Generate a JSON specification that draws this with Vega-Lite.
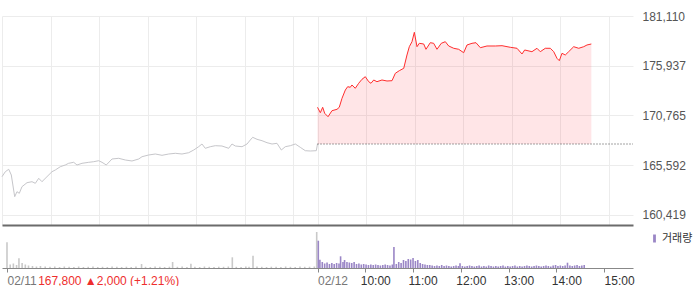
{
"$schema": "https://vega.github.io/schema/vega-lite/v6.json",
"padding": {"left": 0, "top": 10, "right": 0, "bottom": 0},
"autosize": {"type": "pad"},
"bounds": "flush",
"spacing": 0,
"config": {"view": {"stroke": null}, "font": "Liberation Sans"},
"datasets": {
"price": [
{"t":0,"p":164401,"d":1},{"t":4.1,"p":164921,"d":1},{"t":8.3,"p":165171,"d":1},{"t":11.5,"p":164578,"d":1},{"t":15.7,"p":162322,"d":1},{"t":18.5,"p":162842,"d":1},{"t":21.4,"p":162675,"d":1},{"t":24.7,"p":163361,"d":1},{"t":30.9,"p":163777,"d":1},{"t":37.1,"p":163881,"d":1},{"t":41.2,"p":163715,"d":1},{"t":45.4,"p":164235,"d":1},{"t":49.4,"p":163881,"d":1},{"t":55.6,"p":164401,"d":1},{"t":61.8,"p":164921,"d":1},{"t":65.9,"p":165098,"d":1},{"t":72.1,"p":165441,"d":1},{"t":78.2,"p":165618,"d":1},{"t":82.4,"p":165794,"d":1},{"t":88.6,"p":165898,"d":1},{"t":92.7,"p":165618,"d":1},{"t":98.9,"p":165794,"d":1},{"t":107.2,"p":165898,"d":1},{"t":113.4,"p":165961,"d":1},{"t":119.5,"p":166065,"d":1},{"t":123.6,"p":165898,"d":1},{"t":128.9,"p":165618,"d":1},{"t":136.0,"p":166242,"d":1},{"t":144.3,"p":166314,"d":1},{"t":152.4,"p":166138,"d":1},{"t":160.7,"p":166034,"d":1},{"t":169.0,"p":166242,"d":1},{"t":173.1,"p":166481,"d":1},{"t":181.3,"p":166658,"d":1},{"t":189.5,"p":166761,"d":1},{"t":197.8,"p":166626,"d":1},{"t":206.1,"p":166761,"d":1},{"t":214.2,"p":166834,"d":1},{"t":222.5,"p":166761,"d":1},{"t":230.8,"p":166897,"d":1},{"t":237.0,"p":167177,"d":1},{"t":243.1,"p":167521,"d":1},{"t":247.2,"p":167801,"d":1},{"t":251.3,"p":167354,"d":1},{"t":257.5,"p":167521,"d":1},{"t":263.7,"p":167624,"d":1},{"t":271.9,"p":167593,"d":1},{"t":280.2,"p":167354,"d":1},{"t":284.3,"p":167801,"d":1},{"t":288.4,"p":167593,"d":1},{"t":296.7,"p":167521,"d":1},{"t":302.9,"p":167801,"d":1},{"t":306.9,"p":168217,"d":1},{"t":309.9,"p":168498,"d":1},{"t":315.2,"p":168290,"d":1},{"t":321.4,"p":168144,"d":1},{"t":327.6,"p":167936,"d":1},{"t":333.8,"p":167801,"d":1},{"t":339.9,"p":167874,"d":1},{"t":345.3,"p":167177,"d":1},{"t":350.2,"p":167521,"d":1},{"t":356.4,"p":167624,"d":1},{"t":362.6,"p":167801,"d":1},{"t":368.7,"p":167458,"d":1},{"t":374.9,"p":167105,"d":1},{"t":381.1,"p":167073,"d":1},{"t":388.5,"p":167105,"d":1},{"t":390,"p":167800,"d":1},
{"t":390,"p":171617,"d":2},{"t":393.5,"p":171056,"d":2},{"t":396.4,"p":171617,"d":2},{"t":398.9,"p":170993,"d":2},{"t":403.0,"p":170640,"d":2},{"t":407.9,"p":171264,"d":2},{"t":414.1,"p":171409,"d":2},{"t":416.9,"p":171617,"d":2},{"t":420.3,"p":172553,"d":2},{"t":424.4,"p":173416,"d":2},{"t":427.3,"p":173759,"d":2},{"t":430.5,"p":173697,"d":2},{"t":432.6,"p":173936,"d":2},{"t":436.7,"p":173593,"d":2},{"t":440.9,"p":174113,"d":2},{"t":445.0,"p":174529,"d":2},{"t":449.1,"p":174799,"d":2},{"t":453.3,"p":174279,"d":2},{"t":456.1,"p":174113,"d":2},{"t":459.5,"p":174456,"d":2},{"t":463.5,"p":174279,"d":2},{"t":469.7,"p":174456,"d":2},{"t":475.9,"p":174352,"d":2},{"t":482.1,"p":174383,"d":2},{"t":486.2,"p":175152,"d":2},{"t":491.1,"p":175423,"d":2},{"t":496.6,"p":175672,"d":2},{"t":500.6,"p":177055,"d":2},{"t":503.5,"p":177918,"d":2},{"t":506.8,"p":178438,"d":2},{"t":509.7,"p":179415,"d":2},{"t":513.0,"p":177918,"d":2},{"t":515.8,"p":178271,"d":2},{"t":521.3,"p":178199,"d":2},{"t":524.1,"p":177648,"d":2},{"t":529.4,"p":178334,"d":2},{"t":533.6,"p":178271,"d":2},{"t":537.7,"p":177648,"d":2},{"t":543.0,"p":178271,"d":2},{"t":548.0,"p":178438,"d":2},{"t":552.2,"p":177991,"d":2},{"t":558.4,"p":177752,"d":2},{"t":564.5,"p":177648,"d":2},{"t":570.7,"p":177294,"d":2},{"t":574.8,"p":178095,"d":2},{"t":581.0,"p":178271,"d":2},{"t":585.9,"p":178334,"d":2},{"t":591.3,"p":177814,"d":2},{"t":599.5,"p":177991,"d":2},{"t":609.8,"p":177991,"d":2},{"t":618.1,"p":178022,"d":2},{"t":628.3,"p":177856,"d":2},{"t":636.6,"p":177752,"d":2},{"t":642.8,"p":177159,"d":2},{"t":646.1,"p":177575,"d":2},{"t":655.1,"p":177398,"d":2},{"t":661.3,"p":177752,"d":2},{"t":665.4,"p":177398,"d":2},{"t":671.6,"p":177752,"d":2},{"t":677.8,"p":177752,"d":2},{"t":682.0,"p":177398,"d":2},{"t":686.0,"p":176712,"d":2},{"t":688.9,"p":176462,"d":2},{"t":692.2,"p":177232,"d":2},{"t":696.3,"p":177055,"d":2},{"t":700.5,"p":177398,"d":2},{"t":706.7,"p":177918,"d":2},{"t":712.9,"p":177752,"d":2},{"t":719.1,"p":177918,"d":2},{"t":723.1,"p":178095,"d":2},{"t":728.5,"p":178199,"d":2}
],
"volume": [
{"t":0,"v":25700,"k":"전일"},{"t":4,"v":3500,"k":"전일"},{"t":8,"v":4500,"k":"전일"},{"t":12,"v":3000,"k":"전일"},{"t":15,"v":9700,"k":"전일"},{"t":19,"v":5000,"k":"전일"},{"t":23,"v":3500,"k":"전일"},{"t":27,"v":2500,"k":"전일"},{"t":32,"v":2000,"k":"전일"},{"t":37,"v":1500,"k":"전일"},{"t":42,"v":2000,"k":"전일"},{"t":48,"v":1500,"k":"전일"},{"t":54,"v":1200,"k":"전일"},{"t":60,"v":1500,"k":"전일"},{"t":66,"v":1000,"k":"전일"},{"t":72,"v":1500,"k":"전일"},{"t":78,"v":1200,"k":"전일"},{"t":84,"v":1000,"k":"전일"},{"t":90,"v":1500,"k":"전일"},{"t":96,"v":1000,"k":"전일"},{"t":102,"v":1200,"k":"전일"},{"t":108,"v":1500,"k":"전일"},{"t":114,"v":1000,"k":"전일"},{"t":120,"v":1200,"k":"전일"},{"t":126,"v":1000,"k":"전일"},{"t":132,"v":1500,"k":"전일"},{"t":138,"v":1200,"k":"전일"},{"t":144,"v":1000,"k":"전일"},{"t":150,"v":1300,"k":"전일"},{"t":156,"v":1000,"k":"전일"},{"t":162,"v":1500,"k":"전일"},{"t":169,"v":4000,"k":"전일"},{"t":174,"v":1200,"k":"전일"},{"t":180,"v":1000,"k":"전일"},{"t":186,"v":1500,"k":"전일"},{"t":192,"v":1200,"k":"전일"},{"t":198,"v":1000,"k":"전일"},{"t":204,"v":1300,"k":"전일"},{"t":208,"v":6000,"k":"전일"},{"t":214,"v":1200,"k":"전일"},{"t":220,"v":1500,"k":"전일"},{"t":226,"v":1000,"k":"전일"},{"t":231,"v":4300,"k":"전일"},{"t":236,"v":1200,"k":"전일"},{"t":242,"v":1000,"k":"전일"},{"t":248,"v":1500,"k":"전일"},{"t":254,"v":1200,"k":"전일"},{"t":260,"v":1000,"k":"전일"},{"t":266,"v":1300,"k":"전일"},{"t":272,"v":1200,"k":"전일"},{"t":278,"v":1500,"k":"전일"},{"t":283,"v":10700,"k":"전일"},{"t":288,"v":1200,"k":"전일"},{"t":294,"v":1000,"k":"전일"},{"t":300,"v":1500,"k":"전일"},{"t":304,"v":1200,"k":"전일"},{"t":309,"v":12300,"k":"전일"},{"t":314,"v":1500,"k":"전일"},{"t":320,"v":1200,"k":"전일"},{"t":326,"v":1000,"k":"전일"},{"t":332,"v":1300,"k":"전일"},{"t":338,"v":1200,"k":"전일"},{"t":344,"v":1000,"k":"전일"},{"t":350,"v":1500,"k":"전일"},{"t":356,"v":1200,"k":"전일"},{"t":362,"v":1000,"k":"전일"},{"t":368,"v":1500,"k":"전일"},{"t":374,"v":1200,"k":"전일"},{"t":380,"v":1300,"k":"전일"},{"t":386,"v":1500,"k":"전일"},{"t":389,"v":36000,"k":"전일"},
{"t":391,"v":27300,"k":"거래량"},{"t":393,"v":8300,"k":"거래량"},{"t":396,"v":6000,"k":"거래량"},{"t":399,"v":4500,"k":"거래량"},{"t":402,"v":5500,"k":"거래량"},{"t":405,"v":4000,"k":"거래량"},{"t":408,"v":5000,"k":"거래량"},{"t":411,"v":4000,"k":"거래량"},{"t":414,"v":5000,"k":"거래량"},{"t":417,"v":4500,"k":"거래량"},{"t":419,"v":11700,"k":"거래량"},{"t":422,"v":6000,"k":"거래량"},{"t":424,"v":8000,"k":"거래량"},{"t":427,"v":6000,"k":"거래량"},{"t":430,"v":5500,"k":"거래량"},{"t":433,"v":5000,"k":"거래량"},{"t":436,"v":6000,"k":"거래량"},{"t":439,"v":4000,"k":"거래량"},{"t":442,"v":4500,"k":"거래량"},{"t":445,"v":3500,"k":"거래량"},{"t":448,"v":4000,"k":"거래량"},{"t":451,"v":3500,"k":"거래량"},{"t":454,"v":3000,"k":"거래량"},{"t":457,"v":3500,"k":"거래량"},{"t":460,"v":3000,"k":"거래량"},{"t":463,"v":3500,"k":"거래량"},{"t":466,"v":3000,"k":"거래량"},{"t":469,"v":2500,"k":"거래량"},{"t":472,"v":3000,"k":"거래량"},{"t":475,"v":3500,"k":"거래량"},{"t":478,"v":3000,"k":"거래량"},{"t":481,"v":2500,"k":"거래량"},{"t":484,"v":3500,"k":"거래량"},{"t":486,"v":21000,"k":"거래량"},{"t":489,"v":4000,"k":"거래량"},{"t":492,"v":6000,"k":"거래량"},{"t":495,"v":5000,"k":"거래량"},{"t":498,"v":8000,"k":"거래량"},{"t":501,"v":7000,"k":"거래량"},{"t":504,"v":9000,"k":"거래량"},{"t":507,"v":8500,"k":"거래량"},{"t":510,"v":10000,"k":"거래량"},{"t":513,"v":7000,"k":"거래량"},{"t":516,"v":8000,"k":"거래량"},{"t":519,"v":5000,"k":"거래량"},{"t":522,"v":4000,"k":"거래량"},{"t":525,"v":3500,"k":"거래량"},{"t":528,"v":3000,"k":"거래량"},{"t":531,"v":3000,"k":"거래량"},{"t":534,"v":2500,"k":"거래량"},{"t":537,"v":2000,"k":"거래량"},{"t":540,"v":2500,"k":"거래량"},{"t":543,"v":2000,"k":"거래량"},{"t":546,"v":3000,"k":"거래량"},{"t":549,"v":2000,"k":"거래량"},{"t":552,"v":2500,"k":"거래량"},{"t":555,"v":2000,"k":"거래량"},{"t":558,"v":1500,"k":"거래량"},{"t":561,"v":2000,"k":"거래량"},{"t":564,"v":2500,"k":"거래량"},{"t":567,"v":2000,"k":"거래량"},{"t":569,"v":4700,"k":"거래량"},{"t":572,"v":2000,"k":"거래량"},{"t":575,"v":1500,"k":"거래량"},{"t":578,"v":2000,"k":"거래량"},{"t":581,"v":2500,"k":"거래량"},{"t":584,"v":2000,"k":"거래량"},{"t":587,"v":1500,"k":"거래량"},{"t":590,"v":2000,"k":"거래량"},{"t":593,"v":2500,"k":"거래량"},{"t":596,"v":1500,"k":"거래량"},{"t":599,"v":2000,"k":"거래량"},{"t":602,"v":1500,"k":"거래량"},{"t":605,"v":2500,"k":"거래량"},{"t":608,"v":2000,"k":"거래량"},{"t":611,"v":1500,"k":"거래량"},{"t":614,"v":2000,"k":"거래량"},{"t":617,"v":1500,"k":"거래량"},{"t":620,"v":2000,"k":"거래량"},{"t":623,"v":2500,"k":"거래량"},{"t":626,"v":1500,"k":"거래량"},{"t":629,"v":2000,"k":"거래량"},{"t":632,"v":1500,"k":"거래량"},{"t":635,"v":2000,"k":"거래량"},{"t":638,"v":2500,"k":"거래량"},{"t":641,"v":1500,"k":"거래량"},{"t":644,"v":2000,"k":"거래량"},{"t":647,"v":1500,"k":"거래량"},{"t":650,"v":2000,"k":"거래량"},{"t":653,"v":2500,"k":"거래량"},{"t":656,"v":2000,"k":"거래량"},{"t":659,"v":1500,"k":"거래량"},{"t":662,"v":2000,"k":"거래량"},{"t":665,"v":2500,"k":"거래량"},{"t":668,"v":2000,"k":"거래량"},{"t":671,"v":1500,"k":"거래량"},{"t":674,"v":2000,"k":"거래량"},{"t":677,"v":2500,"k":"거래량"},{"t":680,"v":2000,"k":"거래량"},{"t":683,"v":1500,"k":"거래량"},{"t":686,"v":2500,"k":"거래량"},{"t":689,"v":3000,"k":"거래량"},{"t":692,"v":2000,"k":"거래량"},{"t":695,"v":2500,"k":"거래량"},{"t":698,"v":2000,"k":"거래량"},{"t":701,"v":2500,"k":"거래량"},{"t":704,"v":5300,"k":"거래량"},{"t":707,"v":2500,"k":"거래량"},{"t":710,"v":2000,"k":"거래량"},{"t":713,"v":2500,"k":"거래량"},{"t":716,"v":3000,"k":"거래량"},{"t":719,"v":2000,"k":"거래량"},{"t":722,"v":2500,"k":"거래량"},{"t":725,"v":3000,"k":"거래량"}
],
"base": [{"t":390,"t2":780,"p":167800}]
},
"vconcat": [
{
"width": 631, "height": 209,
"encoding": {
"x": {"field": "t", "type": "quantitative", "title": null, "scale": {"domain": [0, 780], "nice": false, "zero": false},
"axis": {"values": [0,60,120,180,240,300,360,390,450,510,570,630,690,750], "grid": true, "gridColor": "#ececec", "labels": false, "ticks": false, "domain": true, "domainColor": "#6b6b6b", "domainWidth": 2, "title": null}},
"y": {"field": "p", "type": "quantitative", "title": null, "scale": {"domain": [159379, 181110], "nice": false, "zero": false},
"axis": {"orient": "right", "values": [160419,165592,170765,175937,181110], "labelExpr": "format(datum.value, ',')", "grid": true, "gridColor": "#ececec", "ticks": false, "domain": false, "labelPadding": 9, "labelColor": "#555", "labelFontSize": 12, "labelFlush": false, "labelOverlap": false, "title": null}}
},
"layer": [
{
"data": {"name": "price"},
"transform": [{"filter": "datum.d == 2"}],
"mark": {"type": "area", "color": "#ff2d3c", "opacity": 0.12},
"encoding": {"y2": {"datum": 167800}}
},
{
"data": {"name": "price"},
"transform": [{"filter": "datum.d == 1"}],
"mark": {"type": "line", "color": "#c6c6ca", "strokeWidth": 1},
"encoding": {}
},
{
"data": {"name": "base"},
"mark": {"type": "rule", "color": "#444", "strokeDash": [1, 2], "strokeWidth": 1},
"encoding": {"x2": {"field": "t2"}}
},
{
"data": {"name": "price"},
"transform": [{"filter": "datum.d == 2"}],
"mark": {"type": "line", "color": "#ff2d2d", "strokeWidth": 1},
"encoding": {}
}
]
},
{
"width": 631, "height": 43,
"data": {"name": "volume"},
"mark": {"type": "bar", "width": 1.6},
"encoding": {
"x": {"field": "t", "type": "quantitative", "scale": {"domain": [0, 780], "nice": false, "zero": false},
"axis": {"values": [0, 38.5, 390, 450, 510, 570, 630, 690, 750],
"labelExpr": "datum.value < 1 ? '02/11' : datum.value < 100 ? '167,800 ▲2,000 (+1.21%)' : datum.value < 391 ? '02/12' : ((datum.value - 390) / 60 + 9) + ':00'",
"grid": false, "domainColor": "#888", "tickColor": "#888", "tickSize": 4, "labelAlign": "left", "labelFontSize": 12, "labelPadding": 3, "labelFlush": false, "labelOverlap": false, "labelBound": false, "title": null,
"tickOpacity": {"condition": {"test": "datum.value > 1 && datum.value < 100", "value": 0}, "value": 1},
"labelColor": {"condition": [{"test": "datum.value > 1 && datum.value < 100", "value": "#ee2e2e"}, {"test": "datum.value < 1 || (datum.value > 389 && datum.value < 391)", "value": "#777"}], "value": "#333"},
"labelOffset": {"condition": {"test": "datum.value > 440 && datum.value < 740", "value": -5}, "value": 0}}},
"y": {"field": "v", "type": "quantitative", "scale": {"domain": [0, 43000], "nice": false}, "axis": null},
"color": {"field": "k", "type": "nominal", "scale": {"domain": ["전일", "거래량"], "range": ["#c9c9c9", "#9a86c6"]},
"legend": {"values": ["거래량"], "orient": "none", "legendX": 647, "legendY": 217, "title": null, "symbolType": "M-0.35,-1H0.35V1H-0.35Z", "symbolSize": 64, "symbolStrokeWidth": 0, "labelFont": "Noto Sans CJK KR", "labelFontSize": 11, "labelColor": "#333", "labelOffset": 2}}
}
}
]
}
